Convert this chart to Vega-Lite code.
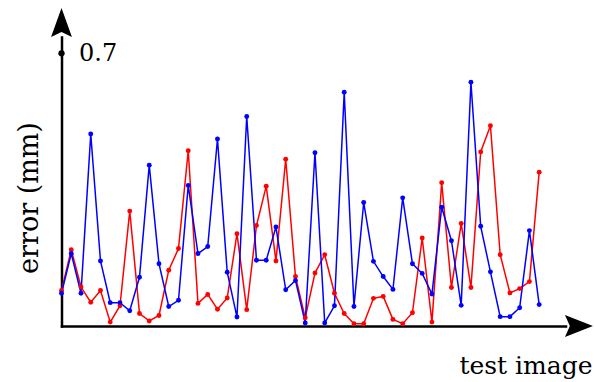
{
  "$schema": "https://vega.github.io/schema/vega-lite/v6.json",
  "width": 504,
  "height": 289,
  "autosize": {"type": "none"},
  "padding": {"left": 61.5, "top": 37, "right": 28.5, "bottom": 56},
  "background": "white",
  "config": {"view": {"stroke": null}, "font": "DejaVu Serif"},
  "data": {
    "values": [
      {"i": 0, "s": "a", "e": 0.091}, {"i": 1, "s": "a", "e": 0.196}, {"i": 2, "s": "a", "e": 0.100}, {"i": 3, "s": "a", "e": 0.061}, {"i": 4, "s": "a", "e": 0.091},
      {"i": 5, "s": "a", "e": 0.010}, {"i": 6, "s": "a", "e": 0.052}, {"i": 7, "s": "a", "e": 0.295}, {"i": 8, "s": "a", "e": 0.032}, {"i": 9, "s": "a", "e": 0.013},
      {"i": 10, "s": "a", "e": 0.027}, {"i": 11, "s": "a", "e": 0.143}, {"i": 12, "s": "a", "e": 0.199}, {"i": 13, "s": "a", "e": 0.450}, {"i": 14, "s": "a", "e": 0.058},
      {"i": 15, "s": "a", "e": 0.081}, {"i": 16, "s": "a", "e": 0.043}, {"i": 17, "s": "a", "e": 0.072}, {"i": 18, "s": "a", "e": 0.237}, {"i": 19, "s": "a", "e": 0.042},
      {"i": 20, "s": "a", "e": 0.258}, {"i": 21, "s": "a", "e": 0.359}, {"i": 22, "s": "a", "e": 0.167}, {"i": 23, "s": "a", "e": 0.428}, {"i": 24, "s": "a", "e": 0.127},
      {"i": 25, "s": "a", "e": 0.021}, {"i": 26, "s": "a", "e": 0.136}, {"i": 27, "s": "a", "e": 0.183}, {"i": 28, "s": "a", "e": 0.084}, {"i": 29, "s": "a", "e": 0.032},
      {"i": 30, "s": "a", "e": 0.006}, {"i": 31, "s": "a", "e": 0.006}, {"i": 32, "s": "a", "e": 0.071}, {"i": 33, "s": "a", "e": 0.076}, {"i": 34, "s": "a", "e": 0.017},
      {"i": 35, "s": "a", "e": 0.006}, {"i": 36, "s": "a", "e": 0.034}, {"i": 37, "s": "a", "e": 0.226}, {"i": 38, "s": "a", "e": 0.010}, {"i": 39, "s": "a", "e": 0.368},
      {"i": 40, "s": "a", "e": 0.099}, {"i": 41, "s": "a", "e": 0.263}, {"i": 42, "s": "a", "e": 0.099}, {"i": 43, "s": "a", "e": 0.447}, {"i": 44, "s": "a", "e": 0.514},
      {"i": 45, "s": "a", "e": 0.183}, {"i": 46, "s": "a", "e": 0.085}, {"i": 47, "s": "a", "e": 0.096}, {"i": 48, "s": "a", "e": 0.114}, {"i": 49, "s": "a", "e": 0.395},
      {"i": 0, "s": "b", "e": 0.084}, {"i": 1, "s": "b", "e": 0.186}, {"i": 2, "s": "b", "e": 0.084}, {"i": 3, "s": "b", "e": 0.493}, {"i": 4, "s": "b", "e": 0.167},
      {"i": 5, "s": "b", "e": 0.060}, {"i": 6, "s": "b", "e": 0.060}, {"i": 7, "s": "b", "e": 0.039}, {"i": 8, "s": "b", "e": 0.125}, {"i": 9, "s": "b", "e": 0.413},
      {"i": 10, "s": "b", "e": 0.160}, {"i": 11, "s": "b", "e": 0.050}, {"i": 12, "s": "b", "e": 0.066}, {"i": 13, "s": "b", "e": 0.361}, {"i": 14, "s": "b", "e": 0.186},
      {"i": 15, "s": "b", "e": 0.204}, {"i": 16, "s": "b", "e": 0.480}, {"i": 17, "s": "b", "e": 0.138}, {"i": 18, "s": "b", "e": 0.023}, {"i": 19, "s": "b", "e": 0.538},
      {"i": 20, "s": "b", "e": 0.169}, {"i": 21, "s": "b", "e": 0.169}, {"i": 22, "s": "b", "e": 0.254}, {"i": 23, "s": "b", "e": 0.093}, {"i": 24, "s": "b", "e": 0.117},
      {"i": 25, "s": "b", "e": 0.008}, {"i": 26, "s": "b", "e": 0.445}, {"i": 27, "s": "b", "e": 0.008}, {"i": 28, "s": "b", "e": 0.052}, {"i": 29, "s": "b", "e": 0.600},
      {"i": 30, "s": "b", "e": 0.050}, {"i": 31, "s": "b", "e": 0.317}, {"i": 32, "s": "b", "e": 0.166}, {"i": 33, "s": "b", "e": 0.127}, {"i": 34, "s": "b", "e": 0.094},
      {"i": 35, "s": "b", "e": 0.329}, {"i": 36, "s": "b", "e": 0.160}, {"i": 37, "s": "b", "e": 0.135}, {"i": 38, "s": "b", "e": 0.082}, {"i": 39, "s": "b", "e": 0.305},
      {"i": 40, "s": "b", "e": 0.219}, {"i": 41, "s": "b", "e": 0.053}, {"i": 42, "s": "b", "e": 0.626}, {"i": 43, "s": "b", "e": 0.256}, {"i": 44, "s": "b", "e": 0.139},
      {"i": 45, "s": "b", "e": 0.024}, {"i": 46, "s": "b", "e": 0.024}, {"i": 47, "s": "b", "e": 0.047}, {"i": 48, "s": "b", "e": 0.245}, {"i": 49, "s": "b", "e": 0.055}
    ]
  },
  "layer": [
    {
      "mark": {"type": "line", "strokeWidth": 1.5, "point": {"filled": true, "size": 24}},
      "encoding": {
        "x": {
          "field": "i",
          "type": "quantitative",
          "scale": {"domain": [0, 51.7], "nice": false, "zero": false},
          "axis": {
            "domain": true,
            "domainColor": "black",
            "domainWidth": 2.5,
            "domainCap": "square",
            "ticks": false,
            "labels": false,
            "grid": false,
            "title": "test image",
            "titleFont": "DejaVu Serif",
            "titleFontSize": 25,
            "titleFontWeight": "normal",
            "titleColor": "black",
            "titleAlign": "right",
            "titleBaseline": "alphabetic",
            "titleX": 530.5,
            "titleY": 47
          }
        },
        "y": {
          "field": "e",
          "type": "quantitative",
          "scale": {"domain": [0, 0.742], "nice": false},
          "axis": {
            "domain": true,
            "domainColor": "black",
            "domainWidth": 2.5,
            "domainCap": "square",
            "values": [0.7],
            "format": ".1f",
            "ticks": false,
            "tickSize": 0,
            "grid": false,
            "labelAlign": "left",
            "labelBaseline": "middle",
            "labelPadding": -17,
            "labelFont": "DejaVu Serif",
            "labelFontSize": 24,
            "labelColor": "black",
            "title": "error (mm)",
            "titleFont": "DejaVu Serif",
            "titleFontSize": 27,
            "titleFontWeight": "normal",
            "titleColor": "black",
            "titleAngle": -90,
            "titleAlign": "center",
            "titleBaseline": "alphabetic",
            "titleX": -24.5,
            "titleY": 160.5
          }
        },
        "color": {
          "field": "s",
          "type": "nominal",
          "scale": {"domain": ["a", "b"], "range": ["#ff0000", "#0000ff"]},
          "legend": null
        }
      }
    },
    {
      "data": {"values": [{}]},
      "mark": {"type": "point", "filled": true, "color": "black", "opacity": 1, "size": 40},
      "encoding": {
        "x": {"datum": 0, "type": "quantitative"},
        "y": {"datum": 0.7, "type": "quantitative"}
      }
    },
    {
      "data": {"values": [{}]},
      "mark": {"type": "point", "filled": true, "color": "black", "opacity": 1, "size": 841, "shape": "M0,-1L0.72,1L0,0.65L-0.72,1Z"},
      "encoding": {
        "x": {"datum": 0, "type": "quantitative"},
        "y": {"datum": 0.779, "type": "quantitative"}
      }
    },
    {
      "data": {"values": [{}]},
      "mark": {"type": "point", "filled": true, "color": "black", "opacity": 1, "size": 784, "shape": "M1,0L-1,0.78L-0.65,0L-1,-0.78Z"},
      "encoding": {
        "x": {"datum": 53.08, "type": "quantitative"},
        "y": {"datum": 0, "type": "quantitative"}
      }
    }
  ]
}
